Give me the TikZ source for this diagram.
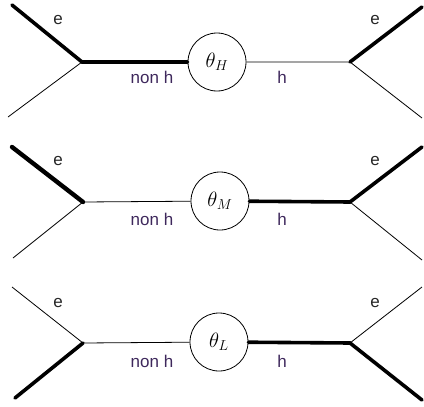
\documentclass[tikz,border=0pt]{standalone}
\usepackage{fontspec}
\setmainfont{Liberation Sans}
\definecolor{lblpurple}{RGB}{62,40,92}
\tikzset{x=1pt,y=-1pt,
    heavy/.style={line width=3.6pt,line cap=round},
    fine/.style={line width=0.8pt},
    vtx/.style={circle,draw,line width=0.8pt,minimum size=58pt,inner sep=0pt,
        font=\fontsize{22}{26}\selectfont},
    lbl/.style={font=\fontsize{17}{20}\selectfont,text=lblpurple},
    elbl/.style={font=\fontsize{17}{20}\selectfont,text=black!85},
    }
\begin{document}
\begin{tikzpicture}
\useasboundingbox (0,0) rectangle (424,407);
% theta_H
\coordinate (H-lu) at (12,5);  \coordinate (H-ll) at (8,117);
\coordinate (H-lv) at (82,62); \coordinate (H-rv) at (350,62);
\coordinate (H-ru) at (422,7); \coordinate (H-rl) at (422,118);
\node[vtx] (H-c) at (217,62) {$\theta_H$};
\draw[heavy] (H-lu) -- (H-lv) -- (H-c);
\draw[fine] (H-ll) -- (H-lv);
\draw[fine] (H-c) -- (H-rv) -- (H-rl);
\draw[heavy] (H-rv) -- (H-ru);
\node[elbl] (H-le) at (58,20) {e};
\node[lbl] (H-nh) at (152,77) {non h};
\node[lbl] (H-h) at (282,77) {h};
\node[elbl] (H-re) at (375,20) {e};
% theta_M
\coordinate (M-lu) at (12,147); \coordinate (M-ll) at (13,258);
\coordinate (M-lv) at (83,202); \coordinate (M-rv) at (350,202);
\coordinate (M-ru) at (422,147); \coordinate (M-rl) at (422,260);
\node[vtx] (M-c) at (220,201) {$\theta_M$};
\draw[heavy,line width=4.4pt] (M-lu) -- (M-lv);
\draw[fine] (M-ll) -- (M-lv) -- (M-c);
\draw[heavy] (M-c) -- (M-rv) -- (M-ru);
\draw[fine] (M-rv) -- (M-rl);
\node[elbl] (M-le) at (58,161) {e};
\node[lbl] (M-nh) at (152,219) {non h};
\node[lbl] (M-h) at (282,219) {h};
\node[elbl] (M-re) at (375,161) {e};
% theta_L
\coordinate (L-lu) at (12,287); \coordinate (L-ll) at (15,398);
\coordinate (L-lv) at (83,343); \coordinate (L-rv) at (350,343);
\coordinate (L-ru) at (422,287); \coordinate (L-rl) at (422,400);
\node[vtx] (L-c) at (219,342) {$\theta_L$};
\draw[fine] (L-lu) -- (L-lv) -- (L-c);
\draw[heavy] (L-ll) -- (L-lv);
\draw[heavy] (L-c) -- (L-rv) -- (L-rl);
\draw[fine] (L-rv) -- (L-ru);
\node[elbl] (L-le) at (58,303) {e};
\node[lbl] (L-nh) at (152,361) {non h};
\node[lbl] (L-h) at (282,361) {h};
\node[elbl] (L-re) at (375,303) {e};
\end{tikzpicture}
\end{document}
